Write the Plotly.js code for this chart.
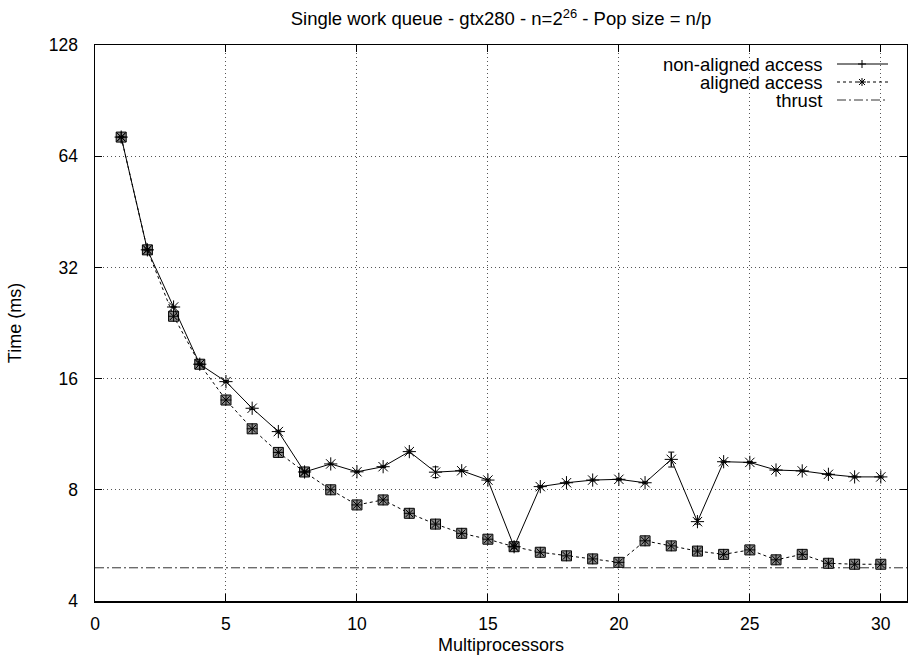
<!DOCTYPE html>
<html>
<head>
<meta charset="utf-8">
<script src="https://cdn.plot.ly/plotly-3.0.1.min.js"></script>
<style>html,body{margin:0;padding:0;background:#fff;}#chart{width:908px;height:659px;}</style>
</head>
<body>
<div id="chart"></div>
<script>
// ---- data ----
var processors = [1,2,3,4,5,6,7,8,9,10,11,12,13,14,15,16,17,18,19,20,21,22,23,24,25,26,27,28,29,30];
var nonAligned = [72.1,35.7,25.0,17.5,15.7,13.3,11.5,8.94,9.40,8.95,9.24,10.15,8.93,9.01,8.50,5.61,8.16,8.36,8.50,8.54,8.36,9.67,6.56,9.53,9.49,9.05,9.00,8.81,8.67,8.67];
var nonAlignedErr = [0.3,0.2,0.1,0.1,0.1,0.1,0.1,0.05,0.05,0.05,0.05,0.1,0.3,0.05,0.05,0.05,0.05,0.05,0.05,0.05,0.05,0.45,0.1,0.05,0.05,0.05,0.05,0.05,0.05,0.05];
var aligned = [72.1,35.7,23.6,17.5,14.0,11.7,10.1,8.94,8.00,7.28,7.51,6.91,6.46,6.10,5.88,5.61,5.42,5.30,5.20,5.09,5.82,5.64,5.46,5.35,5.50,5.17,5.35,5.06,5.03,5.03];
var thrustX = [0, 31];
var thrustY = [4.92, 4.92];
var seriesNames = ["non-aligned access", "aligned access", "thrust"];
var xTicks = [0,5,10,15,20,25,30];
var yTicks = [4,8,16,32,64,128];

// ---- helpers (layout only) ----
var L = 95, R = 907, T = 45, B = 601, W = 908, H = 659;
function px(p){ return (p - L) / (R - L); }
function py(p){ return (B - p) / (B - T); }

var FONT = "Liberation Sans, Arial, Helvetica, sans-serif";

var traces = [
  {
    x: thrustX, y: thrustY, mode: "lines", name: seriesNames[2], showlegend: false,
    line: {color: "#333333", width: 1, dash: "9px,3px,2px,3px"}, hoverinfo: "skip"
  },
  {
    x: processors, y: aligned, mode: "lines+markers", name: seriesNames[1], showlegend: false,
    line: {color: "#000000", width: 1, dash: "3px,3px"},
    marker: {symbol: "square", size: 10, color: "#8a8a8a", line: {color: "#000000", width: 1}}
  },
  {
    x: processors, y: aligned, mode: "markers", showlegend: false, hoverinfo: "skip",
    marker: {symbol: "asterisk-open", size: 9, color: "#000000", line: {color: "#000000", width: 1}}
  },
  {
    x: processors, y: nonAligned, mode: "lines+markers", name: seriesNames[0], showlegend: false,
    line: {color: "#000000", width: 1},
    error_y: {type: "data", array: nonAlignedErr, visible: true, color: "#000000", thickness: 1, width: 3},
    marker: {symbol: "asterisk-open", size: 11, color: "#000000", line: {color: "#000000", width: 1}}
  }
];

// legend drawn like gnuplot: text right-aligned, sample on the right
var rowsY = [64, 82, 100];
var textRight = px(824);
var sx0 = px(837), sx1 = px(888), smid = px(862);
var shapes = [
  // blank box behind legend (hides grid there)
  {type: "rect", xref: "paper", yref: "paper", x0: px(645), x1: 1, y0: py(108), y1: 1,
   fillcolor: "#ffffff", line: {width: 0}, layer: "between"},
  // sample lines
  {type: "line", xref: "paper", yref: "paper", x0: sx0, x1: sx1, y0: py(rowsY[0]), y1: py(rowsY[0]), line: {color: "#000", width: 1}},
  {type: "line", xref: "paper", yref: "paper", x0: sx0, x1: sx1, y0: py(rowsY[1]), y1: py(rowsY[1]), line: {color: "#000", width: 1, dash: "3px,3px"}},
  {type: "line", xref: "paper", yref: "paper", x0: sx0, x1: sx1, y0: py(rowsY[2]), y1: py(rowsY[2]), line: {color: "#333", width: 1, dash: "9px,3px,2px,3px"}},
  // '+' symbol
  {type: "line", xref: "paper", yref: "paper", x0: px(858), x1: px(866), y0: py(rowsY[0]), y1: py(rowsY[0]), line: {color: "#000", width: 1}},
  {type: "line", xref: "paper", yref: "paper", x0: smid, x1: smid, y0: py(rowsY[0]-4), y1: py(rowsY[0]+4), line: {color: "#000", width: 1}},
  // '*' symbol
  {type: "line", xref: "paper", yref: "paper", x0: px(858), x1: px(866), y0: py(rowsY[1]), y1: py(rowsY[1]), line: {color: "#000", width: 1}},
  {type: "line", xref: "paper", yref: "paper", x0: smid, x1: smid, y0: py(rowsY[1]-4), y1: py(rowsY[1]+4), line: {color: "#000", width: 1}},
  {type: "line", xref: "paper", yref: "paper", x0: px(859), x1: px(865), y0: py(rowsY[1]-3), y1: py(rowsY[1]+3), line: {color: "#000", width: 1}},
  {type: "line", xref: "paper", yref: "paper", x0: px(859), x1: px(865), y0: py(rowsY[1]+3), y1: py(rowsY[1]-3), line: {color: "#000", width: 1}}
];

var annotations = seriesNames.map(function(n, i){
  return {text: n, xref: "paper", yref: "paper", x: textRight, y: py(rowsY[i]),
          xanchor: "right", yanchor: "middle", showarrow: false,
          font: {family: FONT, size: 18.5, color: "#000"}};
});

var layout = {
  width: W, height: H,
  margin: {l: L, r: W - R, t: T, b: H - B},
  paper_bgcolor: "#fff", plot_bgcolor: "#fff",
  showlegend: false,
  font: {family: FONT, size: 17.5, color: "#000"},
  title: {
    text: "Single work queue - gtx280 - n=2<sup>26</sup> - Pop size = n/p",
    font: {family: FONT, size: 18.5, color: "#000"},
    xref: "paper", x: 0.5, xanchor: "center",
    yref: "container", y: 1 - 19/H, yanchor: "middle"
  },
  xaxis: {
    range: [0, 31], tickvals: xTicks, ticktext: xTicks.map(String),
    ticks: "inside", ticklen: 7, tickcolor: "#000", tickwidth: 1,
    showline: true, linecolor: "#000", linewidth: 1.5, mirror: "ticks",
    showgrid: true, gridcolor: "#555", griddash: "1px,3px", gridwidth: 1,
    zeroline: false, ticklabelstandoff: 6,
    tickfont: {family: FONT, size: 17.5, color: "#000"},
    title: {text: "Multiprocessors", font: {family: FONT, size: 18, color: "#000"}, standoff: 6}
  },
  yaxis: {
    type: "log", range: [Math.log10(4), Math.log10(128)],
    tickvals: yTicks, ticktext: yTicks.map(String),
    ticks: "inside", ticklen: 7, tickcolor: "#000", tickwidth: 1,
    showline: true, linecolor: "#000", linewidth: 1.5, mirror: "ticks",
    showgrid: true, gridcolor: "#555", griddash: "1px,3px", gridwidth: 1,
    zeroline: false, ticklabelstandoff: 12,
    tickfont: {family: FONT, size: 17.5, color: "#000"},
    title: {text: "Time (ms)", font: {family: FONT, size: 18, color: "#000"}, standoff: 22}
  },
  shapes: shapes,
  annotations: annotations
};

Plotly.newPlot("chart", traces, layout, {displayModeBar: false, staticPlot: true});
</script>
</body>
</html>
